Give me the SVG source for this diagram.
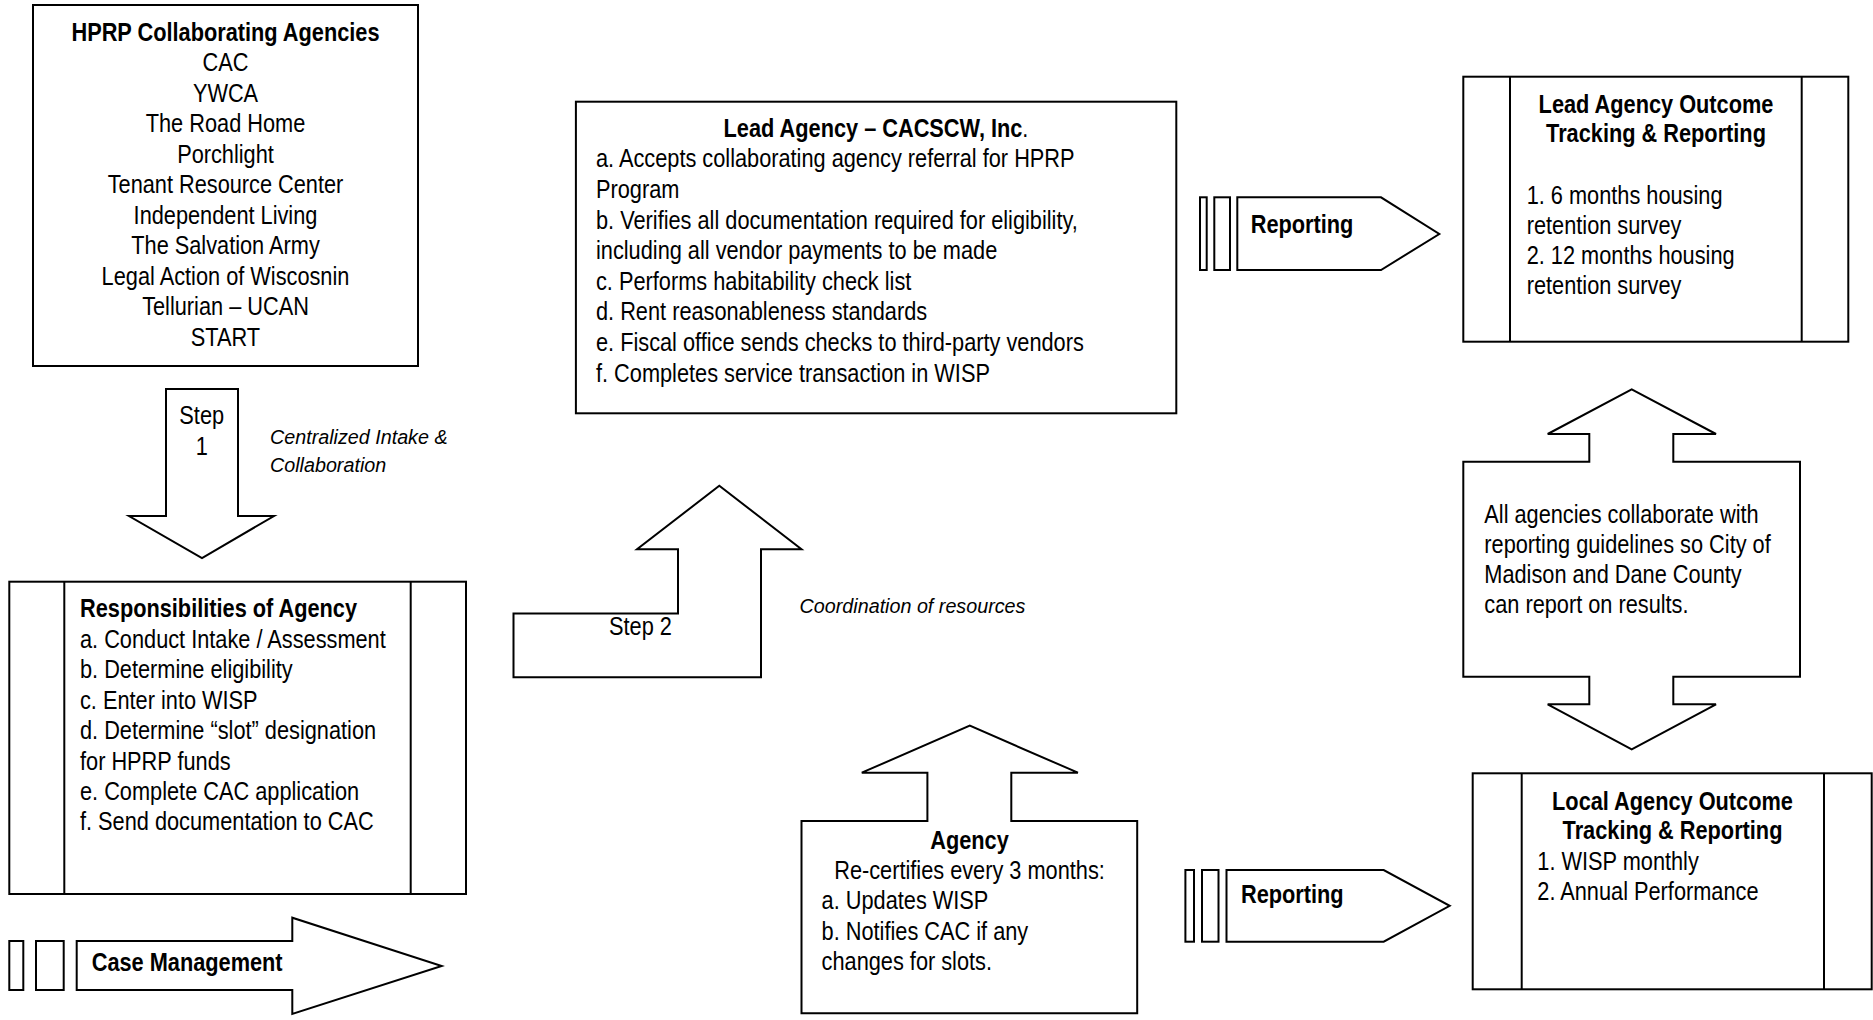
<svg xmlns="http://www.w3.org/2000/svg" width="1873" height="1020" viewBox="0 0 1873 1020">
<style>
.t{font-family:"Liberation Sans",Arial,Helvetica,sans-serif;font-size:25px;fill:#000}
.b{font-weight:bold}
.c{text-anchor:middle}
.i{font-style:italic;font-size:21px}
.s{fill:#fff;stroke:#000;stroke-width:2;stroke-linejoin:miter}
.l{fill:none;stroke:#000;stroke-width:2}
</style>
<rect width="1873" height="1020" fill="#fff"/>

<g id="connectors">
  <g id="step1-arrow">
    <polygon class="s" points="166,389 238,389 238,516 274,516 202,558 129,516 166,516"/>
    <g transform="translate(201.7,0) scale(0.87,1)">
      <text class="t c" x="0" y="424">Step</text>
      <text class="t c" x="0" y="455">1</text>
    </g>
    <g transform="translate(270,0) scale(0.94,1)">
      <text class="t i" x="0" y="444">Centralized Intake &amp;</text>
      <text class="t i" x="0" y="471.7">Collaboration</text>
    </g>
  </g>
  <g id="step2-arrow">
    <polygon class="s" points="513.5,613.5 678,613.5 678,549.3 637,549.3 719.3,485.7 801.5,549.3 761,549.3 761,677.3 513.5,677.3"/>
    <g transform="translate(609,0) scale(0.87,1)">
      <text class="t" x="0" y="635">Step 2</text>
    </g>
    <g transform="translate(799.6,0) scale(0.94,1)">
      <text class="t i" x="0" y="613.3">Coordination of resources</text>
    </g>
  </g>
  <g id="case-management-arrow">
    <rect class="s" x="9.3" y="941" width="14" height="49"/>
    <rect class="s" x="36" y="941" width="27.7" height="49"/>
    <polygon class="s" points="76.7,941 292.3,941 292.3,917.7 441.7,966 292.3,1014 292.3,990 76.7,990"/>
    <g transform="translate(91.7,0) scale(0.87,1)">
      <text class="t b" x="0" y="970.7">Case Management</text>
    </g>
  </g>
  <g id="reporting-top-arrow">
    <rect class="s" x="1200" y="197.3" width="6.7" height="72.7"/>
    <rect class="s" x="1214.3" y="197.3" width="15.7" height="72.7"/>
    <polygon class="s" points="1237.3,197.3 1381,197.3 1439.3,234 1381,270 1237.3,270"/>
    <g transform="translate(1250.7,0) scale(0.87,1)">
      <text class="t b" x="0" y="233.3">Reporting</text>
    </g>
  </g>
  <g id="reporting-bottom-arrow">
    <rect class="s" x="1185.4" y="870" width="8.6" height="71.7"/>
    <rect class="s" x="1202" y="870" width="16.5" height="71.7"/>
    <polygon class="s" points="1226.5,870 1383.7,870 1449.7,905.8 1383.7,941.7 1226.5,941.7"/>
    <g transform="translate(1241,0) scale(0.87,1)">
      <text class="t b" x="0" y="903.3">Reporting</text>
    </g>
  </g>
</g>

<g id="hprp-agencies">
  <rect class="s" x="33" y="5" width="385" height="361"/>
  <g transform="translate(225.5,0) scale(0.87,1)">
    <text class="t b c" x="0" y="41">HPRP Collaborating Agencies</text>
    <text class="t c" x="0" y="71.5">CAC</text>
    <text class="t c" x="0" y="102">YWCA</text>
    <text class="t c" x="0" y="132.5">The Road Home</text>
    <text class="t c" x="0" y="163">Porchlight</text>
    <text class="t c" x="0" y="193.5">Tenant Resource Center</text>
    <text class="t c" x="0" y="224">Independent Living</text>
    <text class="t c" x="0" y="254.5">The Salvation Army</text>
    <text class="t c" x="0" y="285">Legal Action of Wiscosnin</text>
    <text class="t c" x="0" y="315.5">Tellurian – UCAN</text>
    <text class="t c" x="0" y="346">START</text>
  </g>
</g>

<g id="responsibilities">
  <rect class="s" x="9.3" y="581.7" width="456.7" height="312.3"/>
  <line class="l" x1="64.3" y1="581.7" x2="64.3" y2="894"/>
  <line class="l" x1="410.7" y1="581.7" x2="410.7" y2="894"/>
  <g transform="translate(80,0) scale(0.87,1)">
    <text class="t b" x="0" y="617.3">Responsibilities of Agency</text>
    <text class="t" x="0" y="647.8">a. Conduct Intake / Assessment</text>
    <text class="t" x="0" y="678.2">b. Determine eligibility</text>
    <text class="t" x="0" y="708.7">c. Enter into WISP</text>
    <text class="t" x="0" y="739.1">d. Determine “slot” designation</text>
    <text class="t" x="0" y="769.6">for HPRP funds</text>
    <text class="t" x="0" y="800">e. Complete CAC application</text>
    <text class="t" x="0" y="830.5">f. Send documentation to CAC</text>
  </g>
</g>

<g id="lead-agency">
  <rect class="s" x="575.9" y="101.7" width="600.4" height="311.6"/>
  <g transform="translate(876,0) scale(0.87,1)">
    <text class="t c" x="0" y="136.7"><tspan class="b">Lead Agency – CACSCW, Inc</tspan>.</text>
  </g>
  <g transform="translate(596,0) scale(0.87,1)">
    <text class="t" x="0" y="167.3">a. Accepts collaborating agency referral for HPRP</text>
    <text class="t" x="0" y="197.9">Program</text>
    <text class="t" x="0" y="228.6">b. Verifies all documentation required for eligibility,</text>
    <text class="t" x="0" y="259.2">including all vendor payments to be made</text>
    <text class="t" x="0" y="289.8">c. Performs habitability check list</text>
    <text class="t" x="0" y="320.5">d. Rent reasonableness standards</text>
    <text class="t" x="0" y="351.1">e. Fiscal office sends checks to third-party vendors</text>
    <text class="t" x="0" y="381.7">f. Completes service transaction in WISP</text>
  </g>
</g>

<g id="agency-recertifies">
  <polygon class="s" points="801.5,821 927.4,821 927.4,772.7 861.8,772.7 969.8,725.7 1077.9,772.7 1011.3,772.7 1011.3,821 1137.2,821 1137.2,1013.3 801.5,1013.3"/>
  <g transform="translate(969.5,0) scale(0.87,1)">
    <text class="t b c" x="0" y="849">Agency</text>
    <text class="t c" x="0" y="879.5">Re-certifies every 3 months:</text>
  </g>
  <g transform="translate(821.6,0) scale(0.87,1)">
    <text class="t" x="0" y="909.5">a. Updates WISP</text>
    <text class="t" x="0" y="940">b. Notifies CAC if any</text>
    <text class="t" x="0" y="970">changes for slots.</text>
  </g>
</g>

<g id="lead-agency-outcome">
  <rect class="s" x="1463.3" y="76.7" width="385" height="265"/>
  <line class="l" x1="1510" y1="76.7" x2="1510" y2="341.7"/>
  <line class="l" x1="1801.7" y1="76.7" x2="1801.7" y2="341.7"/>
  <g transform="translate(1656,0) scale(0.87,1)">
    <text class="t b c" x="0" y="113">Lead Agency Outcome</text>
    <text class="t b c" x="0" y="142">Tracking &amp; Reporting</text>
  </g>
  <g transform="translate(1526.7,0) scale(0.87,1)">
    <text class="t" x="0" y="204">1. 6 months housing</text>
    <text class="t" x="0" y="234">retention survey</text>
    <text class="t" x="0" y="264">2. 12 months housing</text>
    <text class="t" x="0" y="294">retention survey</text>
  </g>
</g>

<g id="all-agencies-collaborate">
  <polygon class="s" points="1463.3,461.7 1589.3,461.7 1589.3,434 1547.7,434 1631.7,389.3 1716,434 1673.3,434 1673.3,461.7 1800,461.7 1800,676.7 1673.3,676.7 1673.3,704.3 1716,704.3 1631.7,749.3 1547.7,704.3 1589.3,704.3 1589.3,676.7 1463.3,676.7"/>
  <g transform="translate(1484.3,0) scale(0.87,1)">
    <text class="t" x="0" y="522.7">All agencies collaborate with</text>
    <text class="t" x="0" y="553.3">reporting guidelines so City of</text>
    <text class="t" x="0" y="583.3">Madison and Dane County</text>
    <text class="t" x="0" y="613.3">can report on results.</text>
  </g>
</g>

<g id="local-agency-outcome">
  <rect class="s" x="1472.7" y="773.3" width="399" height="216"/>
  <line class="l" x1="1521.7" y1="773.3" x2="1521.7" y2="989.3"/>
  <line class="l" x1="1824" y1="773.3" x2="1824" y2="989.3"/>
  <g transform="translate(1672.5,0) scale(0.87,1)">
    <text class="t b c" x="0" y="810">Local Agency Outcome</text>
    <text class="t b c" x="0" y="839">Tracking &amp; Reporting</text>
  </g>
  <g transform="translate(1537.3,0) scale(0.87,1)">
    <text class="t" x="0" y="870">1. WISP monthly</text>
    <text class="t" x="0" y="900">2. Annual Performance</text>
  </g>
</g>
</svg>
